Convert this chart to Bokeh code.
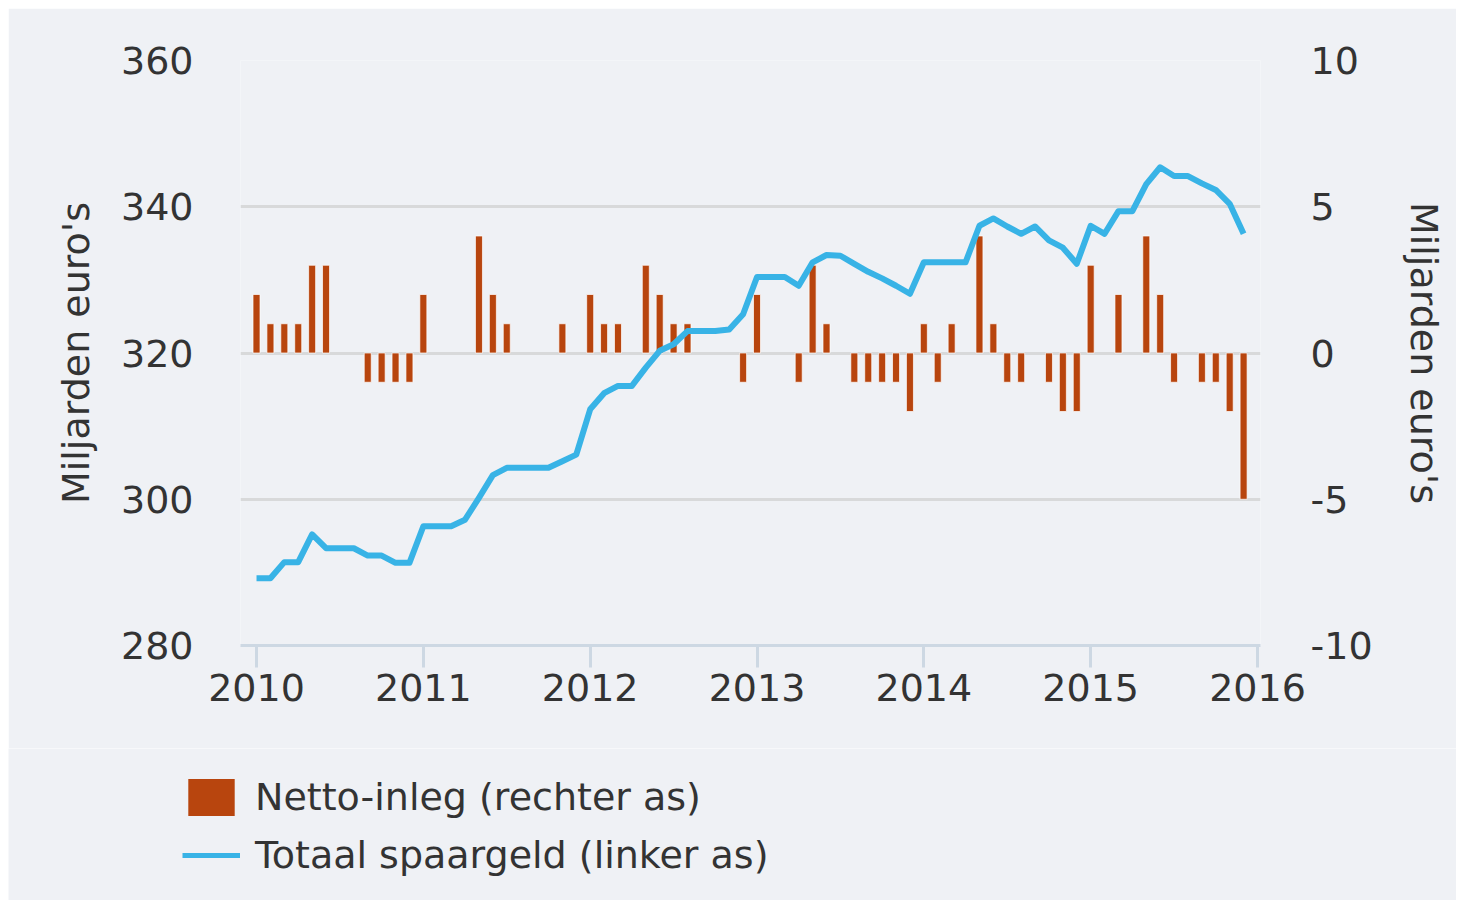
from bokeh.plotting import figure
from bokeh.models import (Range1d, LinearAxis, FixedTicker, Legend, LegendItem,
                          ColumnDataSource)
from bokeh.embed import file_html
from bokeh.resources import INLINE

# ---------------- data ----------------
years = [2010, 2011, 2012, 2013, 2014, 2015]
month_labels = [f"{y}-{m:02d}" for y in years for m in range(1, 13)]

# Netto-inleg, miljarden euro's (rechter as)
netto_inleg = [
    2, 1, 1, 1, 3, 3, 0, 0, -1, -1, -1, -1,      # 2010
    2, 0, 0, 0, 4, 2, 1, 0, 0, 0, 1, 0,          # 2011
    2, 1, 1, 0, 3, 2, 1, 1, 0, 0, 0, -1,         # 2012
    2, 0, 0, -1, 3, 1, 0, -1, -1, -1, -1, -2,    # 2013
    1, -1, 1, 0, 4, 1, -1, -1, 0, -1, -2, -2,    # 2014
    3, 0, 2, 0, 4, 2, -1, 0, -1, -1, -2, -5,     # 2015
]

# Totaal spaargeld, miljarden euro's (linker as)
totaal_spaargeld = [
    289.2, 289.2, 291.4, 291.4, 295.2, 293.3, 293.3, 293.3, 292.3, 292.3, 291.3, 291.3,
    296.3, 296.3, 296.3, 297.2, 300.2, 303.3, 304.3, 304.3, 304.3, 304.3, 305.2, 306.1,
    312.3, 314.5, 315.5, 315.5, 318.0, 320.3, 321.2, 323.0, 323.0, 323.0, 323.2, 325.3,
    330.4, 330.4, 330.4, 329.2, 332.4, 333.4, 333.3, 332.2, 331.1, 330.2, 329.2, 328.1,
    332.4, 332.4, 332.4, 332.4, 337.4, 338.4, 337.3, 336.3, 337.3, 335.4, 334.4, 332.2,
    337.4, 336.3, 339.4, 339.4, 343.1, 345.4, 344.2, 344.2, 343.2, 342.3, 340.4, 336.3,
]

x_ticks = [2010, 2011, 2012, 2013, 2014, 2015, 2016]
left_ticks = [280, 300, 320, 340, 360]
right_ticks = [-10, -5, 0, 5, 10]

label_bars = "Netto-inleg (rechter as)"
label_line = "Totaal spaargeld (linker as)"
axis_title = "Miljarden euro's"

# ---------------- build ----------------
xs = [int(s[:4]) + (int(s[5:]) - 1) / 12 for s in month_labels]
bar_src = ColumnDataSource(dict(
    x=[x for x, v in zip(xs, netto_inleg) if v != 0],
    top=[v for v in netto_inleg if v != 0],
))
line_src = ColumnDataSource(dict(x=xs, y=totaal_spaargeld))

BG = "#eff1f5"
TXT = "#333333"
FONT = "DejaVu Sans"
FS = "38px"
BAR_COLOR = "#b8450e"
LINE_COLOR = "#38b3e6"

W = 1448
p = figure(width=W, height=740, output_backend="svg", toolbar_location=None,
           x_range=Range1d(2009.904, 2016.018), y_range=Range1d(280, 360),
           min_border_left=232, min_border_right=196, min_border_top=52,
           min_border_bottom=103)
p.background_fill_color = BG
p.border_fill_color = BG
p.outline_line_color = None

p.extra_y_ranges = {"right": Range1d(-10, 10)}

p.vbar(x="x", top="top", bottom=0, width=0.042, source=bar_src,
       y_range_name="right", fill_color=BAR_COLOR, line_color="white",
       line_width=1, line_alpha=0.7)
p.line(x="x", y="y", source=line_src, line_color=LINE_COLOR, line_width=6,
       line_join="round")

# x axis
xa = p.xaxis[0]
xa.ticker = FixedTicker(ticks=x_ticks)
xa.minor_tick_line_color = None
xa.axis_line_color = "#cdd8e3"
xa.axis_line_width = 3
xa.major_tick_line_color = "#cdd8e3"
xa.major_tick_line_width = 3
xa.major_tick_out = 22
xa.major_tick_in = 0
xa.major_label_standoff = 6
xa.major_label_text_font = FONT
xa.major_label_text_font_size = FS
xa.major_label_text_color = TXT

# left axis
ya = p.yaxis[0]
ya.ticker = FixedTicker(ticks=left_ticks)
ya.axis_line_color = None
ya.major_tick_line_color = None
ya.minor_tick_line_color = None
ya.major_label_standoff = 41
ya.major_label_text_font = FONT
ya.major_label_text_font_size = FS
ya.major_label_text_color = TXT
ya.axis_label = axis_title
ya.axis_label_standoff = 20
ya.axis_label_text_font = FONT
ya.axis_label_text_font_size = FS
ya.axis_label_text_font_style = "normal"
ya.axis_label_text_color = TXT

# right axis
ra = LinearAxis(y_range_name="right", ticker=FixedTicker(ticks=right_ticks))
ra.major_label_overrides = {t: str(t) for t in right_ticks}
ra.axis_line_color = None
ra.major_tick_line_color = None
ra.minor_tick_line_color = None
ra.major_label_standoff = 44
ra.major_label_text_font = FONT
ra.major_label_text_font_size = FS
ra.major_label_text_color = TXT
ra.axis_label = axis_title
ra.axis_label_standoff = 26
ra.axis_label_text_font = FONT
ra.axis_label_text_font_size = FS
ra.axis_label_text_font_style = "normal"
ra.axis_label_text_color = TXT
p.add_layout(ra, "right")

# grid
p.xgrid.grid_line_color = None
p.ygrid.ticker = FixedTicker(ticks=left_ticks)
p.ygrid.grid_line_color = "#d8d9da"
p.ygrid.grid_line_width = 3

# legend strip below the chart (separate root so frames are not aligned)
lg = figure(width=W, height=152, output_backend="svg", toolbar_location=None,
            x_range=Range1d(0, 1), y_range=Range1d(0, 1),
            x_axis_type=None, y_axis_type=None, min_border=0,
            min_border_left=0, min_border_right=0, min_border_top=0,
            min_border_bottom=0)
lg.background_fill_color = BG
lg.border_fill_color = BG
lg.outline_line_color = None
lg.xgrid.visible = False
lg.ygrid.visible = False
# swatch renderers placed outside the visible range (only their legend shows)
lb = lg.vbar(x=[5], top=[6], bottom=[5], width=0.1, fill_color=BAR_COLOR,
             line_color=None)
ll = lg.line(x=[5, 6], y=[5, 6], line_color=LINE_COLOR, line_width=5)
legend = Legend(items=[LegendItem(label=label_bars, renderers=[lb]),
                       LegendItem(label=label_line, renderers=[ll])],
                location=(174, 22), orientation="vertical",
                glyph_width=58, glyph_height=46, label_height=46,
                label_standoff=15, spacing=12, padding=0, margin=0,
                border_line_color=None, background_fill_alpha=0,
                label_text_font=FONT, label_text_font_size=FS,
                label_text_color=TXT)
lg.add_layout(legend, "center")

html = file_html([p, lg], INLINE)
html = html.replace(
    "</head>",
    "<style>html,body{margin:0 !important;}"
    "body{padding:8px 0 0 8px !important;display:flex !important;"
    "flex-direction:column !important;align-items:flex-start !important;}"
    "</style></head>",
    1)
open("out.html", "w").write(html)
